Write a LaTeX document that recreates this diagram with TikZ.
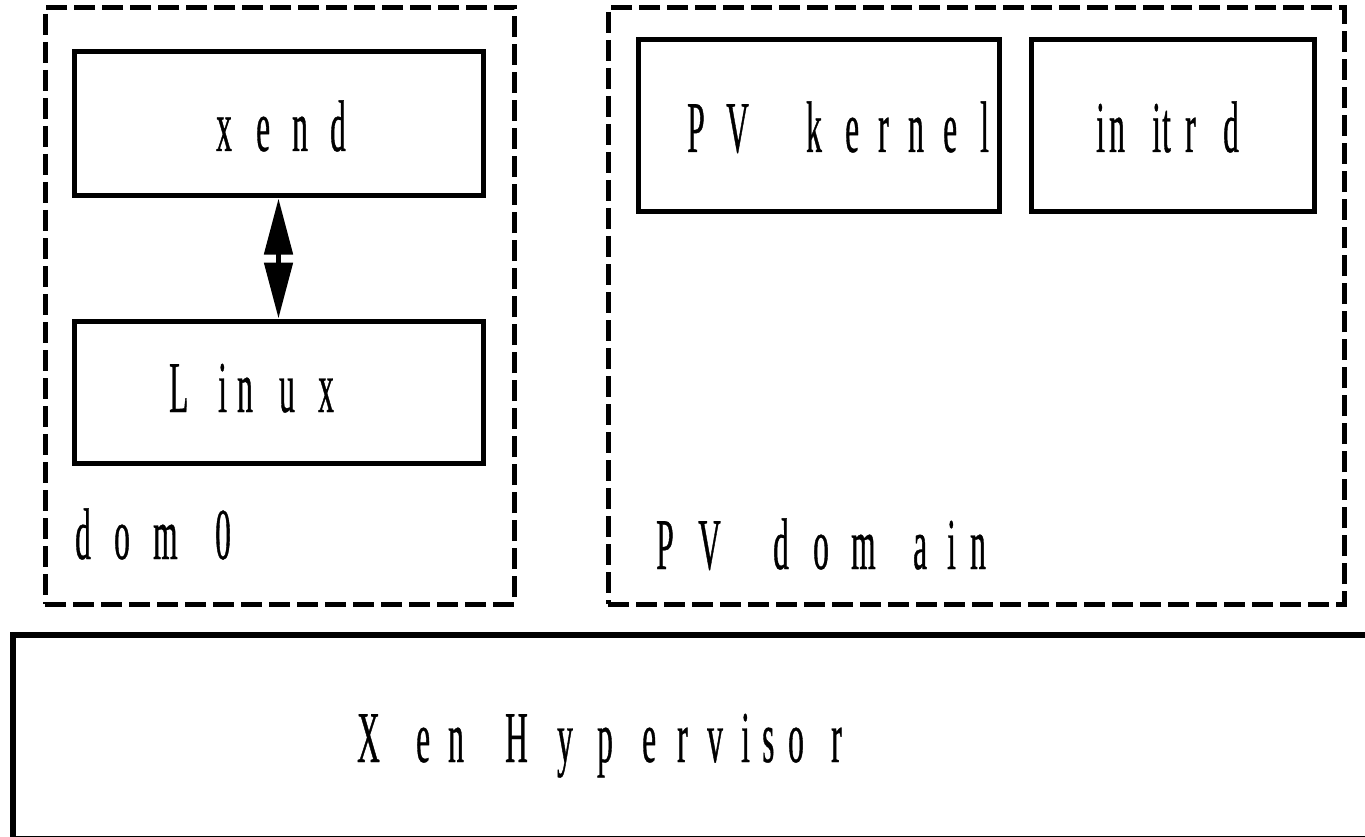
\documentclass[tikz,border=0pt]{standalone}
\usepackage{fontspec}
\newfontfamily\condfont[FakeStretch=0.43,FakeBold=0.5]{Liberation Serif}
\usetikzlibrary{arrows.meta}
\newcommand\Lb[2]{\makebox[#1pt][l]{#2}}
\tikzset{
  solidbox/.style={draw=black, line width=5pt, rectangle, inner sep=0pt},
  dashbox/.style={draw=black, line width=5pt, rectangle, inner sep=0pt, dash pattern=on 21pt off 7pt},
  lbl/.style={font=\condfont\fontsize{73}{80}\selectfont, inner sep=0pt, anchor=base west},
  biarrow/.style={line width=5pt, {Triangle[length=56pt,width=28pt]}-{Triangle[length=56pt,width=28pt]}}
}
\begin{document}
\begin{tikzpicture}[x=1pt,y=-1pt]
\useasboundingbox (0,0) rectangle (1365,837);
% domains
\node[dashbox, minimum width=469pt, minimum height=596pt] (dom0box) at (279.5,306) {};
\node[dashbox, minimum width=736pt, minimum height=596pt] (pvbox) at (976,306) {};
% inner boxes
\node[solidbox, minimum width=409pt, minimum height=144pt] (xend) at (278.5,124) {};
\node[solidbox, minimum width=409pt, minimum height=142pt] (linux) at (278.5,392) {};
\node[solidbox, minimum width=361pt, minimum height=172pt] (pvkernel) at (818.5,126) {};
\node[solidbox, minimum width=283pt, minimum height=172pt] (initrd) at (1172.5,126) {};
% hypervisor
\node[solidbox, line width=5.5pt, minimum width=1387pt, minimum height=203.5pt] (xen) at (706.5,736.75) {};
% arrow
\draw[biarrow] (xend.south) -- (linux.north);
% labels
\node[lbl] (xendlbl) at (216,151) {\Lb{40}{x}\Lb{36}{e}\Lb{38}{n}d};
\node[lbl] (linuxlbl) at (169,412) {\Lb{49}{L}\Lb{19}{i}\Lb{42}{n}\Lb{39}{u}x};
\node[lbl] (dom0lbl) at (75,559) {\Lb{39}{d}\Lb{39}{o}\Lb{62}{m}0};
\node[lbl] (pvkernellbl) at (687,152) {\Lb{39}{P}\Lb{80}{V\ }\Lb{39}{k}\Lb{33}{e}\Lb{30}{r}\Lb{35}{n}\Lb{37}{e}l};
\node[lbl] (initrdlbl) at (1096,152) {\Lb{13}{i}\Lb{43}{n}\Lb{10}{i}\Lb{23}{t}\Lb{38}{r}d};
\node[lbl] (pvdomlbl) at (656,569) {\Lb{42}{P}\Lb{75}{V\ }\Lb{40}{d}\Lb{38}{o}\Lb{62}{m}\Lb{34}{a}\Lb{23}{i}n};
\node[lbl] (xenlbl) at (357,762) {\Lb{59}{X}\Lb{32}{e}\Lb{57}{n\ }\Lb{52}{H}\Lb{40}{y}\Lb{45}{p}\Lb{35}{e}\Lb{30}{r}\Lb{34}{v}\Lb{21}{i}\Lb{26}{s}\Lb{43}{o}r};
\end{tikzpicture}
\end{document}
